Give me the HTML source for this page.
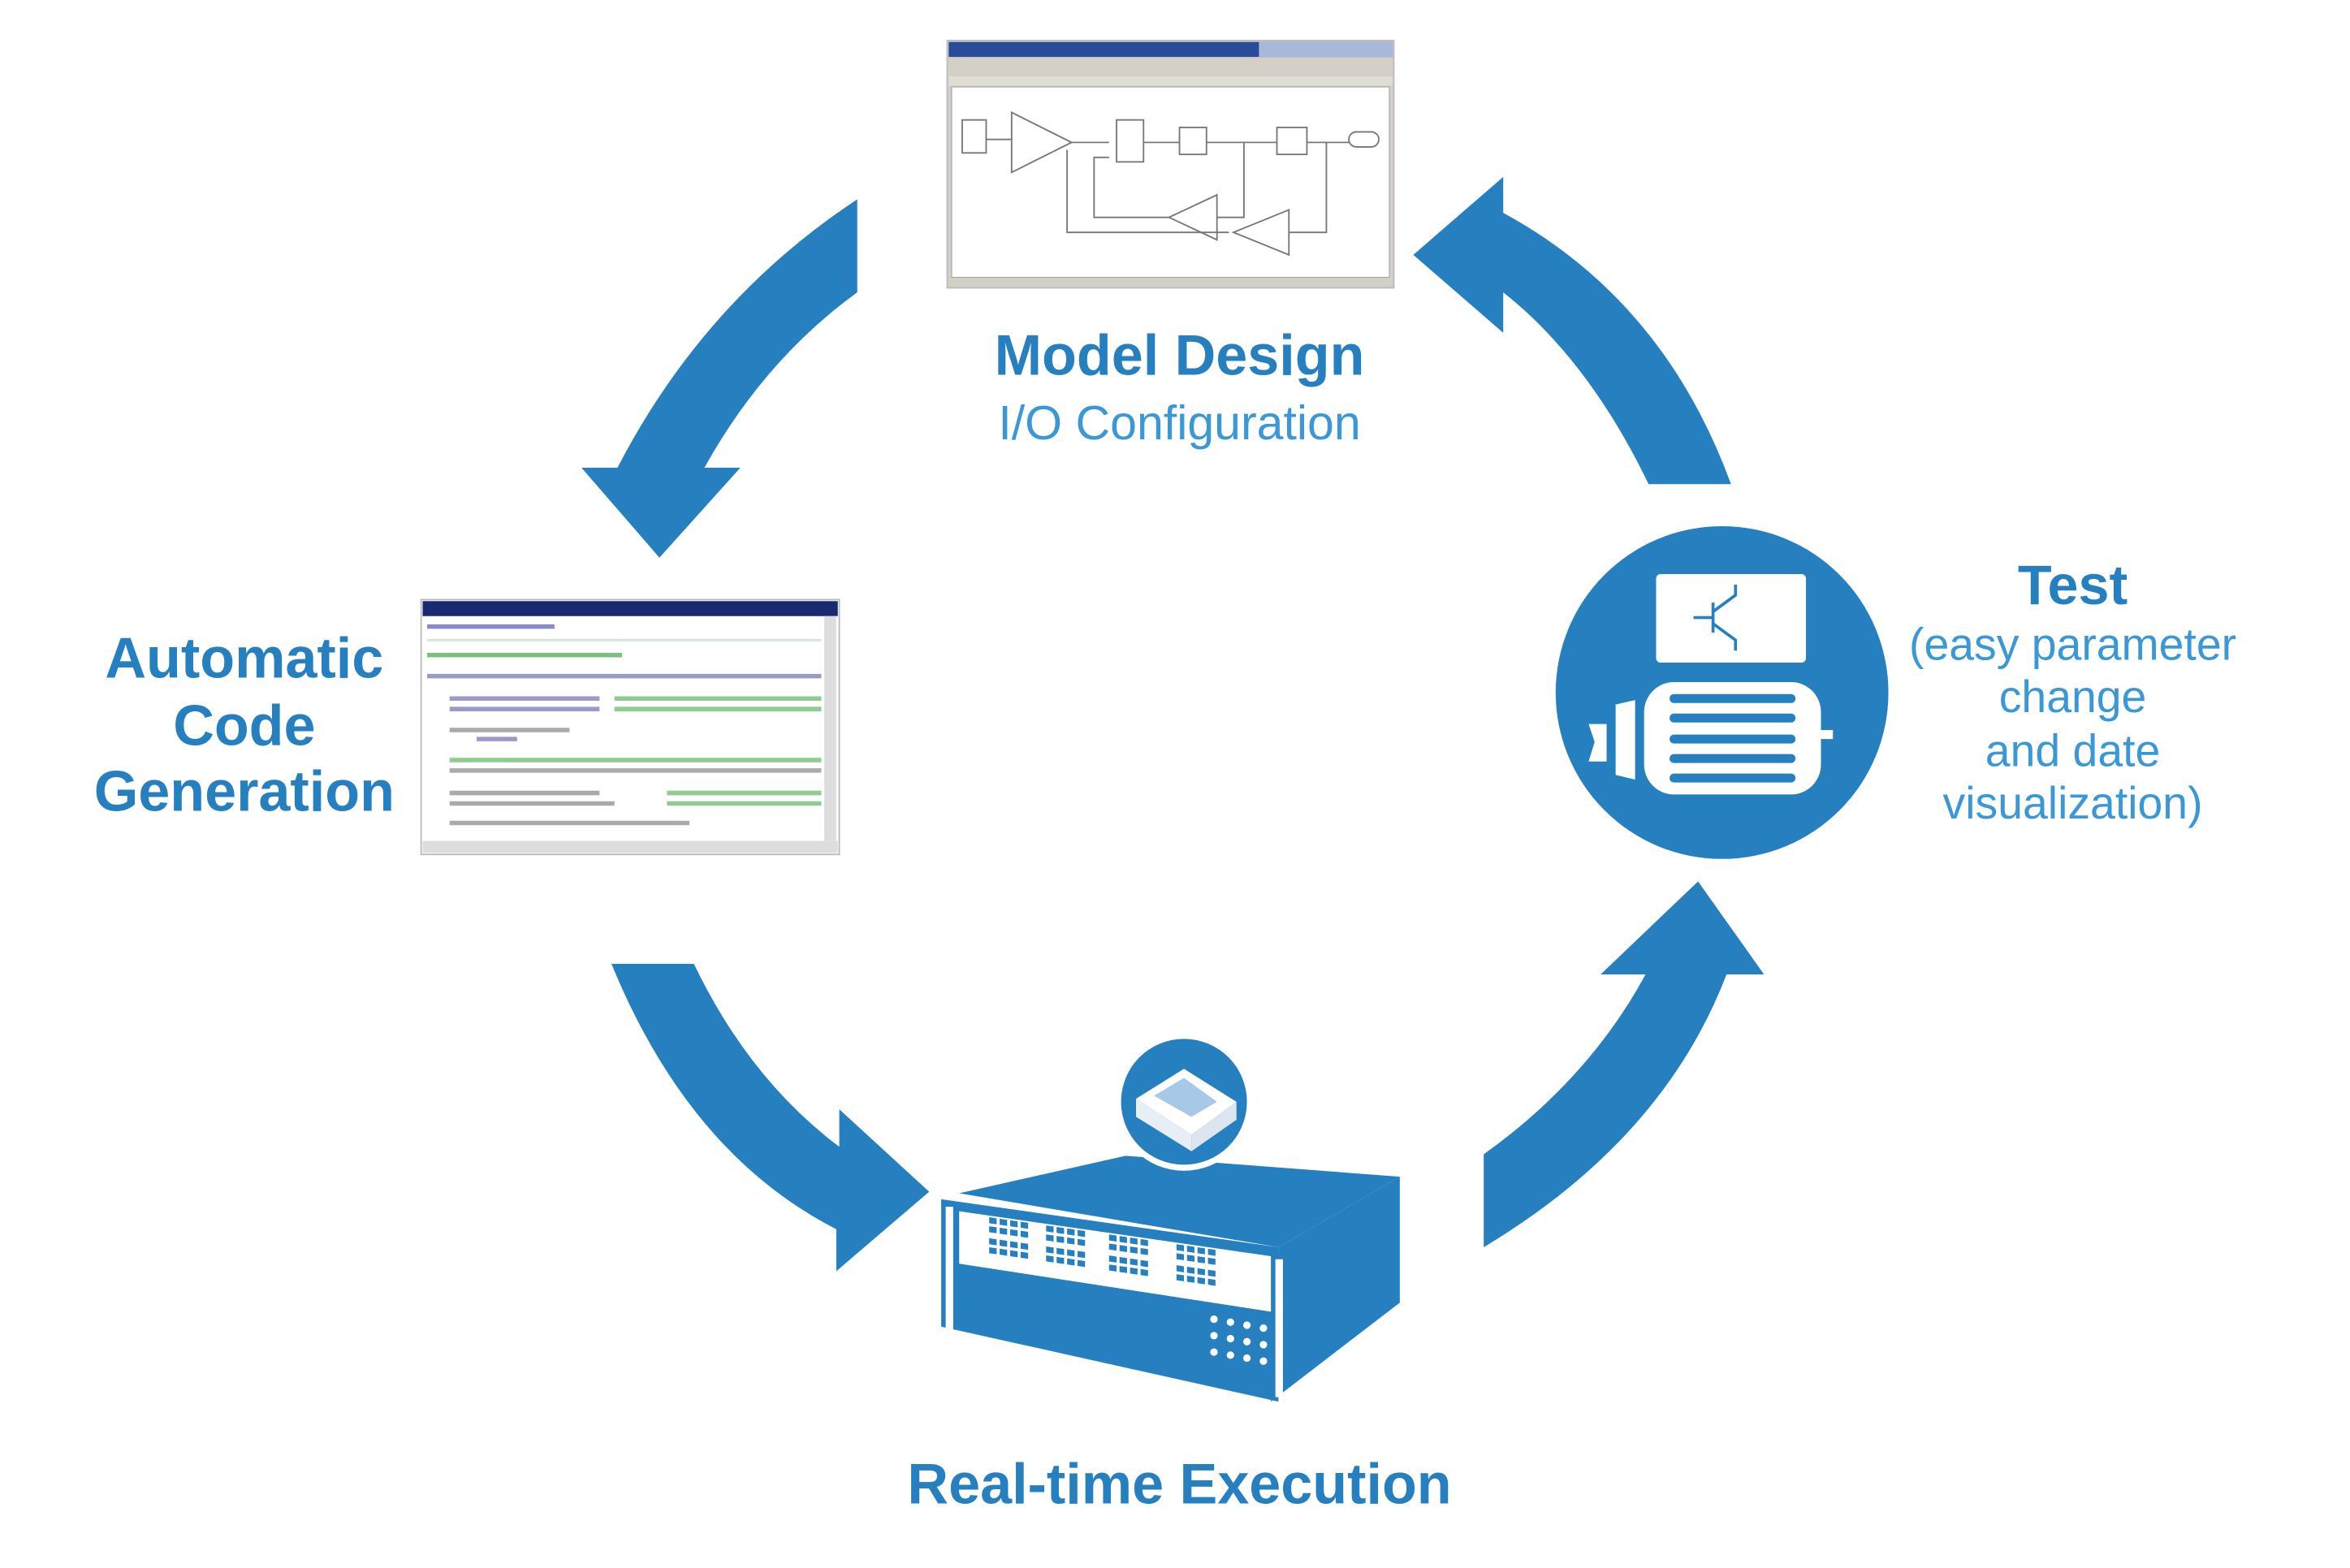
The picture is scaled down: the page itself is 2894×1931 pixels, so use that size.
<!DOCTYPE html>
<html><head><meta charset="utf-8">
<style>
html,body{margin:0;padding:0;background:#fff;}
svg{display:block;}
.t{font-family:"Liberation Sans",sans-serif;fill:#2680c0;text-anchor:middle;}
</style></head>
<body>
<svg width="2894" height="1931" viewBox="0 0 1568 1046" preserveAspectRatio="none" xmlns="http://www.w3.org/2000/svg">
<rect width="1568" height="1046" fill="#fff"/>
<g fill="#2680c0">
<path d="M572,133 Q470,200 412,312 L388,312 L440,372 L494,312 L470,312 Q510,240 572,195 Z"/>
<path d="M1003,118 L943,170 L1003,222 L1003,195 Q1060,240 1100,323 L1155,323 Q1110,200 1003,142 Z"/>
<path d="M408,643 Q460,770 558,820 L558,848 L620,795 L560,740 L560,765 Q500,720 463,643 Z"/>
<path d="M990,832 Q1110,760 1152,650 L1177,650 L1133,588 L1068,650 L1098,650 Q1060,720 990,770 Z"/>
</g>

<!-- Model window -->
<rect x="632" y="27" width="298" height="165" fill="#d4d0c8" stroke="#bbb"/>
<rect x="633" y="28" width="296" height="10" fill="#2a4a9a"/>
<rect x="840" y="28" width="89" height="10" fill="#a8b8d8"/>
<rect x="633" y="51" width="296" height="6" fill="#e0ddd5"/>
<rect x="635" y="58" width="292" height="127" fill="#fff" stroke="#999" stroke-width="0.5"/>
<g fill="none" stroke="#777" stroke-width="1">
<rect x="642" y="80" width="16" height="22"/>
<path d="M675,75 L715,95 L675,115 Z"/>
<rect x="745" y="80" width="18" height="28"/>
<rect x="787" y="85" width="18" height="18"/>
<rect x="852" y="85" width="20" height="18"/>
<rect x="900" y="88" width="20" height="10" rx="5"/>
<path d="M658,93 H675 M715,95 H740 M763,95 H787 M805,95 H852 M872,95 H900"/>
<path d="M830,95 V145 H812 M780,145 H730 V105 H740"/>
<path d="M885,95 V155 H860 M820,155 H712 V100"/>
<path d="M812,130 L780,145 L812,160 Z"/>
<path d="M860,140 L823,155 L860,170 Z"/>
</g>

<!-- Code window -->
<rect x="281" y="400" width="279" height="170" fill="#fff" stroke="#bbb"/>
<rect x="282" y="401" width="277" height="10" fill="#1a2a70"/>
<rect x="550" y="411" width="8" height="150" fill="#ddd"/>
<rect x="282" y="561" width="277" height="8" fill="#ddd"/>
<g stroke-width="3">
<line x1="285" y1="418" x2="370" y2="418" stroke="#8a8acc"/>
<line x1="285" y1="427" x2="548" y2="427" stroke="#cfe8cf" stroke-width="1.5"/>
<line x1="285" y1="437" x2="415" y2="437" stroke="#7cc07c"/>
<line x1="285" y1="451" x2="548" y2="451" stroke="#9a9ac8"/>
<line x1="300" y1="466" x2="400" y2="466" stroke="#9a9ac8"/>
<line x1="410" y1="466" x2="548" y2="466" stroke="#8fcc8f"/>
<line x1="300" y1="473" x2="400" y2="473" stroke="#9a9ac8"/>
<line x1="410" y1="473" x2="548" y2="473" stroke="#8fcc8f"/>
<line x1="300" y1="487" x2="380" y2="487" stroke="#aaa"/>
<line x1="318" y1="493" x2="345" y2="493" stroke="#9a9ac8"/>
<line x1="300" y1="507" x2="548" y2="507" stroke="#8fcc8f"/>
<line x1="300" y1="514" x2="548" y2="514" stroke="#aaa"/>
<line x1="300" y1="529" x2="400" y2="529" stroke="#aaa"/>
<line x1="445" y1="529" x2="548" y2="529" stroke="#8fcc8f"/>
<line x1="300" y1="536" x2="410" y2="536" stroke="#aaa"/>
<line x1="445" y1="536" x2="548" y2="536" stroke="#8fcc8f"/>
<line x1="300" y1="549" x2="460" y2="549" stroke="#aaa"/>
</g>

<!-- Test circle -->
<circle cx="1149" cy="462" r="111" fill="#2680c0"/>
<rect x="1105" y="383" width="100" height="59" rx="3" fill="#fff"/>
<path d="M1130,412 H1143 M1143,402 V422 M1143,408 L1158,397 V390 M1143,416 L1158,427 V434" stroke="#2680c0" stroke-width="2" fill="none"/>
<rect x="1097" y="455" width="118" height="75" rx="20" fill="#fff"/>
<g fill="#2680c0">
<rect x="1114" y="463" width="84" height="6" rx="3"/>
<rect x="1114" y="476" width="84" height="6" rx="3"/>
<rect x="1114" y="490" width="84" height="6" rx="3"/>
<rect x="1114" y="503" width="84" height="6" rx="3"/>
<rect x="1114" y="516" width="84" height="6" rx="3"/>
</g>
<rect x="1215" y="487" width="8" height="6" fill="#fff"/>
<path d="M1078,470 L1091,467 V520 L1078,517 Z M1060,483 H1072 V508 H1060 L1064,495 Z" fill="#fff"/>

<!-- Server -->
<g fill="#2680c0">
<polygon points="640,796 751,771 934,785 853,832"/>
<polygon points="853,832 934,785 934,869 848,935"/>
<polygon points="628,800 853,832 853,935 628,885"/>
</g>
<polygon points="640,808 848,838 848,875 640,843" fill="#fff"/>
<g fill="#2680c0">
<g transform="translate(660,812) skewY(8.2)">
<rect x="0" y="0" width="5" height="4"/><rect x="7" y="0" width="5" height="4"/><rect x="14" y="0" width="5" height="4"/><rect x="21" y="0" width="5" height="4"/>
<rect x="0" y="6" width="5" height="4"/><rect x="7" y="6" width="5" height="4"/><rect x="14" y="6" width="5" height="4"/><rect x="21" y="6" width="5" height="4"/>
<rect x="0" y="14" width="5" height="4"/><rect x="7" y="14" width="5" height="4"/><rect x="14" y="14" width="5" height="4"/><rect x="21" y="14" width="5" height="4"/>
<rect x="0" y="20" width="5" height="4"/><rect x="7" y="20" width="5" height="4"/><rect x="14" y="20" width="5" height="4"/><rect x="21" y="20" width="5" height="4"/>
<rect x="38" y="0" width="5" height="4"/><rect x="45" y="0" width="5" height="4"/><rect x="52" y="0" width="5" height="4"/><rect x="59" y="0" width="5" height="4"/>
<rect x="38" y="6" width="5" height="4"/><rect x="45" y="6" width="5" height="4"/><rect x="52" y="6" width="5" height="4"/><rect x="59" y="6" width="5" height="4"/>
<rect x="38" y="14" width="5" height="4"/><rect x="45" y="14" width="5" height="4"/><rect x="52" y="14" width="5" height="4"/><rect x="59" y="14" width="5" height="4"/>
<rect x="38" y="20" width="5" height="4"/><rect x="45" y="20" width="5" height="4"/><rect x="52" y="20" width="5" height="4"/><rect x="59" y="20" width="5" height="4"/>
<rect x="80" y="0" width="5" height="4"/><rect x="87" y="0" width="5" height="4"/><rect x="94" y="0" width="5" height="4"/><rect x="101" y="0" width="5" height="4"/>
<rect x="80" y="6" width="5" height="4"/><rect x="87" y="6" width="5" height="4"/><rect x="94" y="6" width="5" height="4"/><rect x="101" y="6" width="5" height="4"/>
<rect x="80" y="14" width="5" height="4"/><rect x="87" y="14" width="5" height="4"/><rect x="94" y="14" width="5" height="4"/><rect x="101" y="14" width="5" height="4"/>
<rect x="80" y="20" width="5" height="4"/><rect x="87" y="20" width="5" height="4"/><rect x="94" y="20" width="5" height="4"/><rect x="101" y="20" width="5" height="4"/>
<rect x="125" y="0" width="5" height="4"/><rect x="132" y="0" width="5" height="4"/><rect x="139" y="0" width="5" height="4"/><rect x="146" y="0" width="5" height="4"/>
<rect x="125" y="6" width="5" height="4"/><rect x="132" y="6" width="5" height="4"/><rect x="139" y="6" width="5" height="4"/><rect x="146" y="6" width="5" height="4"/>
<rect x="125" y="14" width="5" height="4"/><rect x="132" y="14" width="5" height="4"/><rect x="139" y="14" width="5" height="4"/><rect x="146" y="14" width="5" height="4"/>
<rect x="125" y="20" width="5" height="4"/><rect x="132" y="20" width="5" height="4"/><rect x="139" y="20" width="5" height="4"/><rect x="146" y="20" width="5" height="4"/>
</g>
</g>
<rect x="631" y="805" width="5" height="82" fill="#fff"/>
<rect x="851" y="840" width="5" height="92" fill="#fff"/>
<g fill="#fff">
<circle cx="810" cy="880" r="2.5"/><circle cx="821" cy="882" r="2.5"/><circle cx="832" cy="884" r="2.5"/><circle cx="843" cy="886" r="2.5"/>
<circle cx="810" cy="891" r="2.5"/><circle cx="821" cy="893" r="2.5"/><circle cx="832" cy="895" r="2.5"/><circle cx="843" cy="897" r="2.5"/>
<circle cx="810" cy="902" r="2.5"/><circle cx="821" cy="904" r="2.5"/><circle cx="832" cy="906" r="2.5"/><circle cx="843" cy="908" r="2.5"/>
</g>
<circle cx="790" cy="735" r="46" fill="#fff"/>
<circle cx="790" cy="735" r="42" fill="#2680c0"/>
<polygon points="758,733 790,713 825,735 795,757" fill="#fff"/>
<polygon points="758,733 795,757 795,768 758,745" fill="#e8eef6"/>
<polygon points="795,757 825,735 825,747 795,768" fill="#dde6f0"/>
<polygon points="770,731 790,719 812,735 795,745" fill="#a8c8e8"/>

<!-- Labels -->
<text class="t" x="787" y="250" font-size="38" font-weight="bold">Model Design</text>
<text class="t" x="787" y="293" font-size="32" style="fill:#3b98d6">I/O Configuration</text>
<text class="t" x="163" y="452" font-size="38" font-weight="bold">Automatic</text>
<text class="t" x="163" y="497" font-size="38" font-weight="bold">Code</text>
<text class="t" x="163" y="541" font-size="38" font-weight="bold">Generation</text>
<text class="t" x="1383" y="403" font-size="37" font-weight="bold">Test</text>
<text class="t" x="1383" y="440" font-size="30" style="fill:#3b98d6">(easy parameter</text>
<text class="t" x="1383" y="475" font-size="30" style="fill:#3b98d6">change</text>
<text class="t" x="1383" y="511" font-size="30" style="fill:#3b98d6">and date</text>
<text class="t" x="1383" y="546" font-size="30" style="fill:#3b98d6">visualization)</text>
<text class="t" x="787" y="1003" font-size="38" font-weight="bold">Real-time Execution</text>
</svg>
</body></html>
